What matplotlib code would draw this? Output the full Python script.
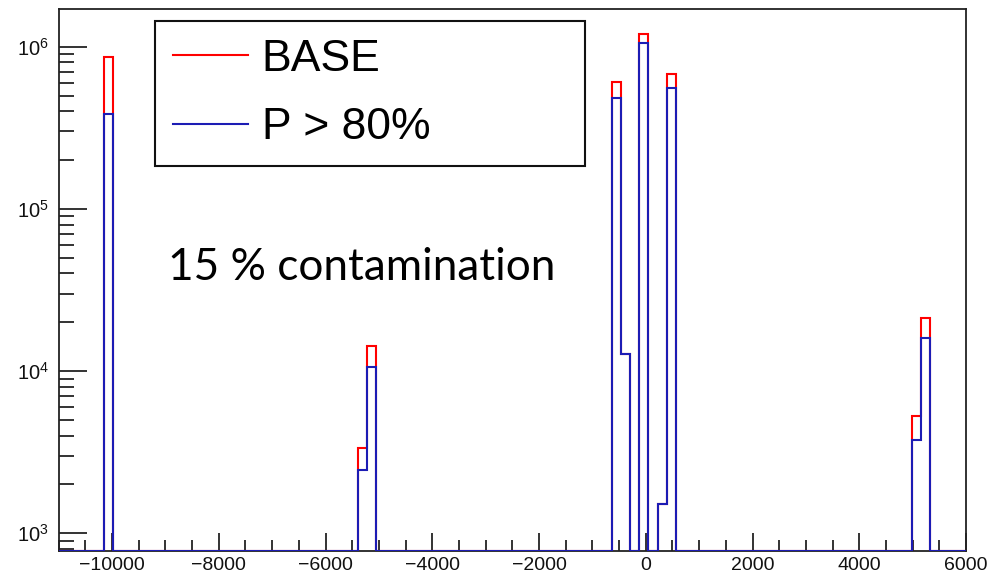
import numpy as np
import matplotlib
matplotlib.use("Agg")
import matplotlib.pyplot as plt
from matplotlib.lines import Line2D
from matplotlib.ticker import MultipleLocator, LogLocator, FuncFormatter, NullFormatter

# ---- data -------------------------------------------------------------
x_min, x_max, n_bins = -11000, 6000, 100
bin_left = [-10150, -5390, -5220, -630, -460, -120, 220, 390, 4980, 5150]
base = [8.67e5, 3.37e3, 1.43e4, 6.03e5, 1.27e4, 1.19e6, 1.51e3, 6.79e5, 5.31e3, 2.12e4]
p80 = [3.83e5, 2.45e3, 1.06e4, 4.81e5, 1.27e4, 1.06e6, 1.51e3, 5.54e5, 3.76e3, 1.60e4]
labels = ["BASE", "P > 80%"]
annotation = "15 % contamination"
y_min, y_max = 778, 1.70e6

# ---- figure -----------------------------------------------------------
plt.rcParams["font.family"] = ["Liberation Sans", "DejaVu Sans"]
plt.rcParams["mathtext.fontset"] = "custom"
plt.rcParams["mathtext.rm"] = "Liberation Sans"
plt.rcParams["mathtext.it"] = "Liberation Sans:italic"
plt.rcParams["mathtext.bf"] = "Liberation Sans:bold"

W, H = 1004, 577
fig = plt.figure(figsize=(W / 100, H / 100), dpi=100)
ax = fig.add_axes([58.7 / W, (H - 551) / H, (966 - 58.7) / W, (551 - 9.3) / H])

edges = np.linspace(x_min, x_max, n_bins + 1)
half = (edges[1] - edges[0]) / 2
centers = np.array(bin_left) + half
h_base, _ = np.histogram(centers, bins=edges, weights=base)
h_p80, _ = np.histogram(centers, bins=edges, weights=p80)

red = "#ff0000"
blue = "#1c1cb4"
ax.stairs(np.maximum(h_base, y_min), edges, baseline=None, color=red, lw=1.5, zorder=3)
ax.stairs(np.maximum(h_p80, y_min), edges, baseline=None, color=blue, lw=1.5, zorder=4)

ax.set_yscale("log")
ax.set_xlim(x_min, x_max)
ax.set_ylim(y_min, y_max)

ax.xaxis.set_major_locator(MultipleLocator(2000))
ax.xaxis.set_minor_locator(MultipleLocator(500))
ax.yaxis.set_major_locator(LogLocator(base=10, subs=(1.0,)))
ax.yaxis.set_minor_locator(LogLocator(base=10, subs=np.arange(2, 10)))
ax.yaxis.set_minor_formatter(NullFormatter())
ax.yaxis.set_major_formatter(FuncFormatter(lambda v, p: r"$\mathregular{10^{%d}}$" % round(np.log10(v))))

ax.tick_params(axis="x", which="major", direction="in", length=13, width=1.2, labelsize=14, pad=4, colors="#111111")
ax.tick_params(axis="x", which="minor", direction="in", length=8, width=1.2, colors="#111111")
ax.tick_params(axis="y", which="major", direction="in", length=20.5, width=1.2, labelsize=14.5, pad=7, colors="#111111")
ax.tick_params(axis="y", which="minor", direction="in", length=10.5, width=1.2, colors="#111111")
ax.tick_params(top=False, right=False, which="both")
for s in ax.spines.values():
    s.set_color("#222222")
    s.set_linewidth(1.3)

handles = [Line2D([], [], color=red, lw=1.5), Line2D([], [], color=blue, lw=1.5)]
leg = fig.legend(handles, labels, loc="upper left",
                 bbox_to_anchor=(155 / W, 1 - 21 / H, (585 - 155) / W, 0.0),
                 mode="expand", fontsize=32, frameon=True, fancybox=False,
                 framealpha=1, edgecolor="#111111", handlelength=1.7,
                 handletextpad=0.3, borderpad=0.4, labelspacing=0.62,
                 borderaxespad=0)
leg.get_frame().set_linewidth(1.5)

fig.text(168 / W, 1 - 280 / H, annotation, fontsize=31.8, family=["Lato", "DejaVu Sans"],
         ha="left", va="baseline", color="black")

fig.savefig("out.png", dpi=100)
